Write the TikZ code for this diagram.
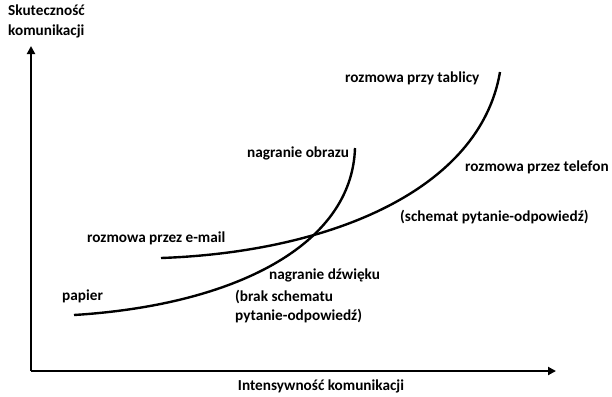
\documentclass[tikz,border=0pt]{standalone}
\usepackage{fontspec}
\setmainfont{Carlito}
\usetikzlibrary{arrows.meta}
\begin{document}
\begin{tikzpicture}[x=1bp,y=-1bp,
  lbl/.style={font=\bfseries\fontsize{15.3}{19.5}\selectfont, inner sep=0pt, anchor=west},
  axis/.style={line width=2pt, -{Triangle[length=8bp,width=8bp]}},
  curve/.style={line width=2.4pt}]
\useasboundingbox (0,0) rectangle (612,396);

% axes
\coordinate (O) at (31,371);
\coordinate (ytip) at (31,46);
\coordinate (xtip) at (556,371);
\draw[axis] (O) -- (ytip);
\draw[axis] (O) -- (xtip);

% axis titles
\node[lbl, anchor=north west, align=left] (ylab) at (8,5) {Skuteczność\\komunikacji};
\node[lbl, anchor=center] (xlab) at (321,386) {Intensywność komunikacji};

% curves
\coordinate (a0) at (74,315);
\coordinate (a1) at (355,148);
\coordinate (b0) at (161,258);
\coordinate (b1) at (500,72);
\draw[curve] (a0) .. controls (235,305) and (352,245) .. (a1);
\draw[curve] (b0) .. controls (330,252) and (480,190) .. (b1);

% labels
\node[lbl] (tab) at (345,78) {rozmowa przy tablicy};
\node[lbl] (obr) at (247,153) {nagranie obrazu};
\node[lbl] (tel) at (465,167) {rozmowa przez telefon};
\node[lbl] (sch) at (400,217) {(schemat pytanie-odpowiedź)};
\node[lbl] (mail) at (87,238) {rozmowa przez e-mail};
\node[lbl] (dzw) at (269,275) {nagranie dźwięku};
\node[lbl, anchor=north west, align=left] (brak) at (235,290) {(brak schematu\\pytanie-odpowiedź)};
\node[lbl] (pap) at (62,296) {papier};
\end{tikzpicture}
\end{document}
